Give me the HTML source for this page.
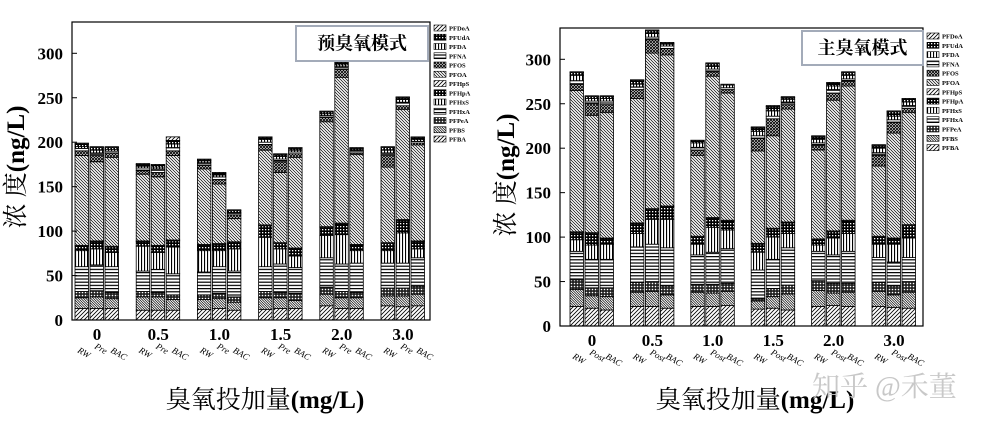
<!DOCTYPE html>
<html><head><meta charset="utf-8">
<style>
html,body{margin:0;padding:0;background:#fff;}
svg{display:block;}
.t{font-family:"Liberation Serif","Noto Serif CJK SC",serif;}
</style></head>
<body>
<svg id="s" width="994" height="430" viewBox="0 0 994 430" xmlns="http://www.w3.org/2000/svg">
<defs>
<pattern id="p-fwd" width="4" height="4" patternUnits="userSpaceOnUse"><rect width="4" height="4" fill="#fff"/><path d="M-1,1 L1,-1 M0,4 L4,0 M3,5 L5,3" stroke="#000" stroke-width="0.8"/></pattern>
<pattern id="p-back" width="3" height="3" patternUnits="userSpaceOnUse"><rect width="3" height="3" fill="#fff"/><path d="M-1,2 L1,4 M0,0 L3,3 M2,-1 L4,1" stroke="#000" stroke-width="0.7"/></pattern>
<pattern id="p-back2" width="2.5" height="2.5" patternUnits="userSpaceOnUse"><rect width="2.5" height="2.5" fill="#fff"/><path d="M0,0 L2.5,2.5 M-1,1.5 L1,3.5 M1.5,-1 L3.5,1" stroke="#000" stroke-width="0.7"/></pattern>
<pattern id="p-hor" width="3" height="3.2" patternUnits="userSpaceOnUse"><rect width="3" height="3.2" fill="#fff"/><rect y="0" width="3" height="1.2" fill="#000"/></pattern>
<pattern id="p-ver" width="3" height="3" patternUnits="userSpaceOnUse"><rect width="3" height="3" fill="#fff"/><rect x="0" width="1.1" height="3" fill="#000"/></pattern>
<pattern id="p-grid" width="3" height="3" patternUnits="userSpaceOnUse"><rect width="3" height="3" fill="#000"/><rect x="1" y="1" width="1.3" height="1.3" fill="#fff"/></pattern>
<pattern id="p-dots" width="3" height="3" patternUnits="userSpaceOnUse"><rect width="3" height="3" fill="#222"/><circle cx="1.5" cy="1.5" r="0.8" fill="#fff"/></pattern>
<pattern id="p-cross" width="3" height="3" patternUnits="userSpaceOnUse"><rect width="3" height="3" fill="#fff"/><path d="M0,0 L3,3 M3,0 L0,3" stroke="#000" stroke-width="0.9"/></pattern>
</defs>
<g id="root"></g>
<text class="t" x="812" y="396" font-size="28" fill="#c8c8c8" font-family="Liberation Sans,Noto Sans CJK SC,sans-serif">知乎 @禾董</text>
</svg>
<script>
// Series (stack bottom -> top)
const seriesNames = ["PFBA","PFBS","PFPeA","PFHxA","PFHxS","PFHpA","PFHpS","PFOA","PFOS","PFNA","PFDA","PFUdA","PFDoA"];
const groupLabels = ["0","0.5","1.0","1.5","2.0","3.0"];
const yTicks = [0,50,100,150,200,250,300];
const subLabelsPre = ["RW","Pre","BAC"];
const subLabelsPost = ["RW","Post","BAC"];

// Pre-ozonation chart values (18 bars: 6 dosages x RW/Pre/BAC)
const preBA  = [13,13,13,11,11,11,12,13,11,12,13,13,16,13,13,16,15,16];
const preBS  = [12,13,11,15,15,12,11,11,9,13,12,9,13,12,12,11,12,13];
const prePeA = [7,7,7,6,5,5,5,6,6,7,6,8,8,7,6,9,9,9];
const preHxA = [28,29,29,23,26,24,26,30,29,28,32,29,33,31,33,28,28,32];
const preHxS = [18,18,16,28,19,30,24,18,25,33,17,13,25,33,14,14,34,10];
const preHpA = [5,8,6,5,7,7,6,7,7,13,6,8,9,12,6,8,14,8];
const preHpS = [1,1,1,1,1,1,1,1,1,1,1,1,1,1,1,1,1,1];
const preOA  = [101,89,100,75,77,95,85,67,26,84,79,102,118,164,101,85,124,108];
const preOS  = [5,7,5,4,5,5,4,5,4,6,12,4,5,9,2,13,4,2];
const preNA  = [3,3,2,3,4,4,3,3,2,3,3,2,2,3,2,3,4,2];
const preDA  = [2,3,2,2,2,4,2,2,1,3,3,2,2,2,1,3,3,2];
const preUdA = [3,3,2,2,2,4,1,2,2,2,2,2,2,2,2,3,2,2];
const preDoA = [1,1,1,1,1,4,1,1,1,1,1,1,1,1,1,1,1,1];

// Main-ozonation chart values
const postBA  = [22,20,18,22,22,20,22,22,23,19,20,18,22,23,22,22,21,20];
const postBS  = [19,14,15,16,17,15,16,15,16,9,13,18,18,14,16,17,14,18];
const postPeA = [11,9,10,11,11,10,9,10,9,3,9,10,11,11,10,10,10,12];
const postHxA = [32,32,32,40,42,43,33,36,39,32,33,42,33,32,36,28,27,27];
const postHxS = [13,16,17,15,28,32,12,28,21,20,25,16,7,19,20,15,20,22];
const postHpA = [8,13,6,11,11,14,8,10,10,9,9,12,6,7,14,8,6,14];
const postHpS = [1,1,1,1,1,1,1,1,1,1,1,1,1,1,1,1,1,1];
const postOA  = [159,132,141,140,175,170,91,159,143,104,104,127,100,147,151,79,118,126];
const postOS  = [7,13,9,10,15,7,6,5,4,14,19,5,5,8,5,12,12,5];
const postNA  = [4,3,4,3,3,3,3,3,2,3,3,3,3,4,3,3,3,3];
const postDA  = [6,3,3,3,4,2,5,3,3,5,6,3,4,4,4,5,4,4];
const postUdA = [3,2,2,4,3,1,2,3,0,4,5,2,3,3,3,3,5,3];
const postDoA = [1,1,1,1,1,1,1,1,1,1,1,1,1,1,1,1,1,1];

const patterns = ["p-fwd","p-back2","p-dots","p-hor","p-ver","p-grid","p-fwd","p-back","p-cross","p-hor","p-ver","p-grid","p-fwd"];
const NS = "http://www.w3.org/2000/svg";
const root = document.getElementById('root');
function mk(tag, attrs, parent){const e=document.createElementNS(NS,tag);for(const k in attrs)e.setAttribute(k,attrs[k]);(parent||root).appendChild(e);return e;}

function drawChart(c){
  const g = mk('g',{});
  
  
  const y = v => c.y0 - v*(c.y0-c.y300)/300;
  const barX = (gi,bi) => c.x0 + gi*c.gp + bi*15;
  for(let gi=0; gi<6; gi++){
    for(let bi=0; bi<3; bi++){
      const idx = gi*3+bi;
      let cum = 0;
      const bg = mk('g',{},g);
      
      
      c.series.forEach((arr,si)=>{
        const v = arr[idx];
        if(v<=0){return;}
        const r = mk('rect',{x:barX(gi,bi), y:y(cum+v), width:13.5, height:y(cum)-y(cum+v), fill:'url(#'+patterns[si]+')', stroke:'#000', 'stroke-width':0.8},bg);
        
        
        cum += v;
      });
      const t = mk('text',{class:'t','font-size':9,'font-style':'italic',transform:'translate('+(barX(gi,bi)+(bi==0?2:bi==1?4:5))+','+(bi==1?c.y0+28:c.y0+32)+') rotate(30)','text-anchor':'start'},g);
      t.textContent = c.subs[bi];
      
      
    }
    const gl = mk('text',{class:'t','font-size':17,'font-weight':'bold',x:barX(gi,1)+7,y:c.y0+20,'text-anchor':'middle'},g);
    gl.textContent = groupLabels[gi];
    
    
  }
  const fr = mk('rect',{x:c.fx0,y:c.fy0,width:c.fx1-c.fx0,height:c.y0-c.fy0,fill:'none',stroke:'#000','stroke-width':1.2},g);
  
  
  yTicks.forEach(v=>{
    mk('line',{x1:c.fx0,x2:c.fx0+5,y1:y(v),y2:y(v),stroke:'#000','stroke-width':1},g);
    const t = mk('text',{class:'t','font-size':17,'font-weight':'bold',x:c.fx0-9,y:y(v)+6,'text-anchor':'end'},g);
    t.textContent = v;
    
    
  });
  const tb = mk('rect',{x:c.bx,y:c.by,width:c.bw,height:c.bh,fill:'#fff',stroke:'#a3abb9','stroke-width':2},g);
  
  
  const tt = mk('text',{class:'t','font-size':18,'font-weight':'bold',x:c.bx+c.bw/2,y:c.by+c.bh/2+6,'text-anchor':'middle'},g);
  tt.textContent = c.title;
  
  
  for(let i=0;i<13;i++){
    const si = 12-i;
    const ly = c.ly + i*c.ls;
    const lg = mk('g',{},g);
    
    
    mk('rect',{x:c.lx,y:ly-3,width:12,height:6,fill:'url(#'+patterns[si]+')',stroke:'#000','stroke-width':0.6},lg);
    const t = mk('text',{class:'t','font-size':6.5,'font-weight':'bold',x:c.lx+15,y:ly+2.5},lg);
    t.textContent = seriesNames[si];
  }
  const xt = mk('text',{class:'t','font-size':25,x:c.xtx,y:408,'text-anchor':'middle'},g);
  xt.innerHTML = '臭氧投加量<tspan font-weight="bold">(mg/L)</tspan>';
  
  
  const yt = mk('text',{class:'t','font-size':25,transform:'translate('+c.ytx+','+c.yty+') rotate(-90)','text-anchor':'middle'},g);
  yt.innerHTML = '浓 度<tspan font-weight="bold">(ng/L)</tspan>';
  
  
}

drawChart({name:'pre-ozonation-chart', x0:75, gp:61.2, y0:320, y300:53.3, fx0:72, fx1:430, fy0:22,
  series:[preBA,preBS,prePeA,preHxA,preHxS,preHpA,preHpS,preOA,preOS,preNA,preDA,preUdA,preDoA],
  subs:subLabelsPre, title:'预臭氧模式', bx:296, by:26, bw:132, bh:35, lx:434, ly:28, ls:9.25, xtx:265, ytx:24, yty:167});
drawChart({name:'main-ozonation-chart', x0:570, gp:60.4, y0:326, y300:59.3, fx0:560, fx1:923, fy0:28,
  series:[postBA,postBS,postPeA,postHxA,postHxS,postHpA,postHpS,postOA,postOS,postNA,postDA,postUdA,postDoA],
  subs:subLabelsPost, title:'主臭氧模式', bx:802, by:31, bw:121, bh:34, lx:927, ly:36, ls:9.3, xtx:755, ytx:514, yty:175});
</script>
</body></html>
